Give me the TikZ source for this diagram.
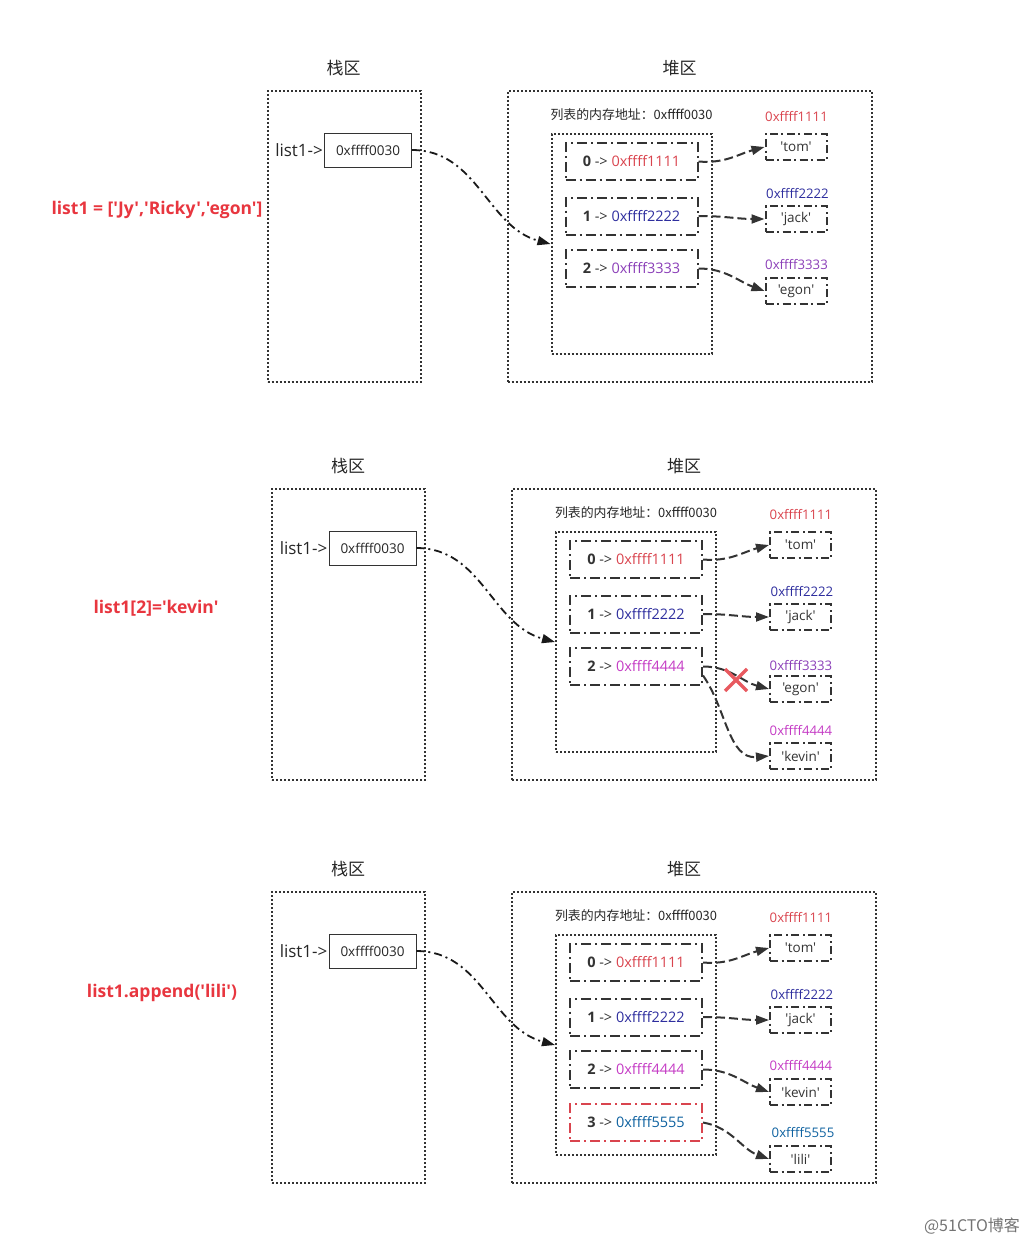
\documentclass[tikz,border=0pt]{standalone}
\usepackage{fontspec}
\usetikzlibrary{arrows.meta}
\newfontfamily\of{Open Sans}
\newfontfamily\cjk{Noto Sans CJK SC}
\definecolor{cA}{HTML}{D9444E}
\definecolor{cB}{HTML}{2E2E9E}
\definecolor{cC}{HTML}{8B3FB8}
\definecolor{cD}{HTML}{C43BC4}
\definecolor{cE}{HTML}{0F62A0}
\definecolor{lab}{HTML}{E8363F}
\definecolor{ln}{HTML}{333333}
\definecolor{xr}{HTML}{E8595F}
\tikzset{
  title/.style={font=\cjk\fontsize{17}{19}\selectfont, text=black!85},
  dotbox/.style={draw=ln, line width=2pt, dash pattern=on 2pt off 2pt, inner sep=0pt},
  listbox/.style={draw=ln, line width=0.8pt, minimum width=87, minimum height=34, inner sep=0pt, font=\of\fontsize{13.5}{15}\selectfont, text=black!85},
  elem/.style={draw=ln, line width=2pt, dash pattern=on 10pt off 4pt on 2pt off 4pt, minimum width=132, minimum height=37, inner sep=0pt, font=\of\fontsize{14.5}{16}\selectfont, text=black!80},
  val/.style={draw=ln, line width=2pt, dash pattern=on 8pt off 3.5pt on 2pt off 3.5pt, minimum width=61, minimum height=26, inner sep=0pt, font=\of\fontsize{13.5}{15}\selectfont, text=black!80},
  addr/.style={font=\of\fontsize{13.2}{15}\selectfont},
  conn/.style={draw=ln, line width=2pt, dash pattern=on 9pt off 4pt, -{Triangle[length=13pt,width=9pt]}},
  mainarr/.style={draw=black!90, line width=1.8pt, dash pattern=on 8pt off 4pt on 2pt off 4pt, -{Triangle[length=13pt,width=9pt]}},
  bigl/.style={font=\of\bfseries\fontsize{17.5}{19}\selectfont, text=lab},
}
\newcommand\mypanel[1]{%
  \node[title] (#1t1) at (348,466) {栈区};
  \node[dotbox, minimum width=153, minimum height=291] (#1stack) at (348.5,634.5) {};
  \node[listbox] (#1lb) at (372.5,548) {0xffff0030};
  \node[anchor=east, inner sep=1pt, font=\of\fontsize{17}{19}\selectfont, text=black!85] (#1ll) at (#1lb.west) {list1->};
  \node[title] (#1t2) at (684,466) {堆区};
  \node[dotbox, minimum width=364, minimum height=291] (#1heap) at (694,634.5) {};
  \node[font=\cjk\fontsize{12.9}{15}\selectfont, text=black!85] (#1cap) at (636,513) {列表的内存地址：0xffff0030};
  \node[dotbox, minimum width=160, minimum height=220] (#1in) at (636,642) {};
  \node[elem] (#1e0) at (636,559.5) {{\bfseries 0} -> \textcolor{cA}{0xffff1111}};
  \node[elem] (#1e1) at (636,614) {{\bfseries 1} -> \textcolor{cB}{0xffff2222}};
  \node[addr, text=cA] (#1a0) at (801,515) {0xffff1111};
  \node[val] (#1v0) at (800.5,545) {'tom'};
  \node[addr, text=cB] (#1a1) at (802,592) {0xffff2222};
  \node[val] (#1v1) at (800.5,617) {'jack'};
  \draw[mainarr] (#1lb.east) to[out=0,in=165] (#1in.west);
  \draw[conn] (#1e0.east) to[out=-5,in=195] (#1v0.west);
  \draw[conn] (#1e1.east) to[out=0,in=180] (#1v1.west);
}
\begin{document}
\begin{tikzpicture}[x=1pt,y=-1pt]
\useasboundingbox (0,0) rectangle (1035,1244);
% panel 1
\begin{scope}[shift={(-4.5,-398)}]
  \mypanel{a}
  \node[elem] (ae2) at (636,666.5) {{\bfseries 2} -> \textcolor{cC}{0xffff3333}};
  \node[addr, text=cC] (aa2) at (801,663) {0xffff3333};
  \node[val] (av2) at (800.5,689) {'egon'};
  \draw[conn] (ae2.east) to[out=0,in=160] (av2.west);
\end{scope}
\node[bigl] (l1) at (157,210) {list1 = ['Jy','Ricky','egon']};
% panel 2
\begin{scope}
  \mypanel{b}
  \node[elem] (be2) at (636,666.5) {{\bfseries 2} -> \textcolor{cD}{0xffff4444}};
  \node[addr, text=cC] (ba2) at (801,666) {0xffff3333};
  \node[val] (bv2) at (800.5,689) {'egon'};
  \node[addr, text=cD] (ba3) at (801,731) {0xffff4444};
  \node[val] (bv3) at (800.5,756) {'kevin'};
  \draw[conn] (be2.east) to[out=0,in=165] (bv2.west);
  \draw[conn] ([yshift=-9pt]be2.east) to[out=-55,in=185] (bv3.west);
  \coordinate (xc) at (736,680);
  \draw[xr, line width=3.5pt] ([shift={(-11,-11)}]xc) -- ([shift={(11,11)}]xc);
  \draw[xr, line width=3.5pt] ([shift={(-11,11)}]xc) -- ([shift={(11,-11)}]xc);
\end{scope}
\node[bigl] (l2) at (156,608) {list1[2]='kevin'};
% panel 3
\begin{scope}[shift={(0,403)}]
  \mypanel{c}
  \node[elem] (ce2) at (636,666.5) {{\bfseries 2} -> \textcolor{cD}{0xffff4444}};
  \node[elem, draw=cA] (ce3) at (636,719.5) {{\bfseries 3} -> \textcolor{cE}{0xffff5555}};
  \node[addr, text=cD] (ca2) at (801,663) {0xffff4444};
  \node[val] (cv2) at (800.5,689) {'kevin'};
  \node[addr, text=cE] (ca3) at (803,729) {0xffff5555};
  \node[val] (cv3) at (800.5,756) {'lili'};
  \draw[conn] (ce2.east) to[out=0,in=160] (cv2.west);
  \draw[conn] (ce3.east) to[out=-10,in=160] (cv3.west);
\end{scope}
\node[bigl] (l3) at (162,993) {list1.append('lili')};
\node[font=\cjk\fontsize{16}{18}\selectfont, text=black!55] (wm) at (972,1226) {@51CTO博客};
\end{tikzpicture}
\end{document}
